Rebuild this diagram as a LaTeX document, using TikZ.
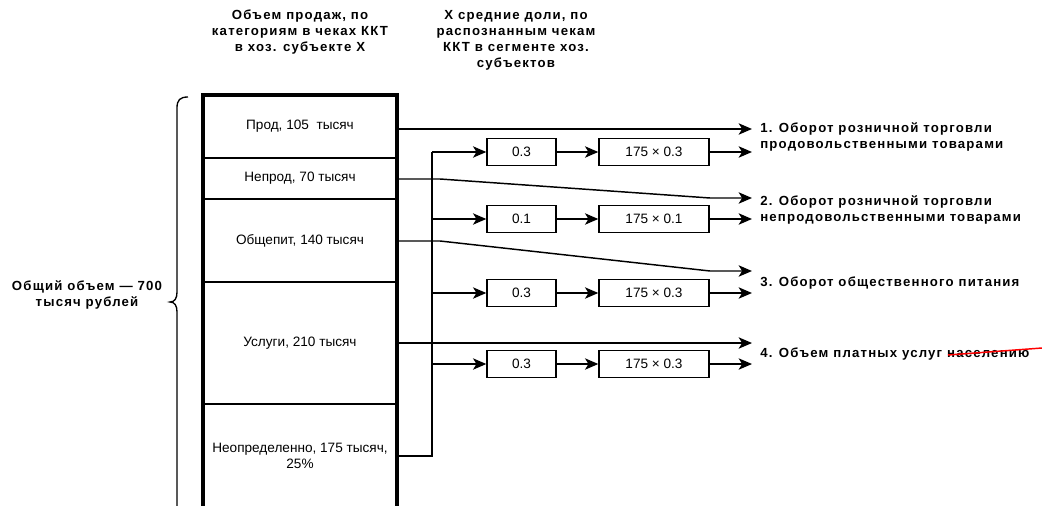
\documentclass[tikz,border=0pt]{standalone}
\usepackage{fontspec}
\setmainfont{Liberation Sans}
\newfontfamily\labfont[LetterSpace=9]{Liberation Sans}
\usetikzlibrary{arrows.meta}
\tikzset{
  cell/.style={draw, line width=1pt, minimum width=145.5pt, inner sep=0pt, align=center, font=\fontsize{10.2}{11.5}\selectfont},
  valbox/.style={draw, line width=1pt, minimum height=20.25pt, inner sep=0pt, font=\fontsize{10.2}{12}\selectfont},
  lab/.style={align=left, inner sep=0pt, font=\labfont\bfseries\fontsize{9.9}{12}\selectfont},
  head/.style={align=center, inner sep=0pt, font=\labfont\bfseries\fontsize{9.9}{12}\selectfont},
  conn/.style={line width=1.1pt},
  arr/.style={line width=1.1pt, -{Stealth[length=10pt,width=8.5pt,inset=2.6pt]}},
}
\begin{document}
\begin{tikzpicture}[x=0.75pt, y=-0.75pt]
\useasboundingbox (0,0) rectangle (1042,506);
\clip (0,0) rectangle (1042,506);
% headers
\node[head] (h1) at (300,32) {Объем продаж, по\\категориям в чеках ККТ\\в хоз. субъекте X};
\node[head] (h2) at (516,40) {X средние доли, по\\распознанным чекам\\ККТ в сегменте хоз.\\субъектов};
% left label and brace
\node[head] (total) at (87,295) {Общий объем — 700\\тысяч рублей};
\draw[line width=1pt] (188,97) .. controls (180,97) and (177,100) .. (177,108) -- (177,292)
  .. controls (177,298) and (175,302) .. (170,302) .. controls (175,302) and (177,306) .. (177,312) -- (177,520);
% main column cells
\node[cell, minimum height=47.25pt] (prod) at (300,126.5) {Прод, 105 \ тысяч};
\node[cell, minimum height=30.75pt] (neprod) at (300,178.5) {Непрод, 70 тысяч};
\node[cell, minimum height=62.25pt] (obsh) at (300,240.5) {Общепит, 140 тысяч};
\node[cell, minimum height=91.5pt] (usl) at (300,343) {Услуги, 210 тысяч};
\node[cell, minimum height=78pt] (neopr) at (300,456) {Неопределенно, 175 тысяч,\\25\%};
\draw[line width=2.3pt] (203,560) -- (203,95) -- (397,95) -- (397,560);
% value boxes
\node[valbox, minimum width=51.75pt] (a1) at (521.5,152) {0.3};
\node[valbox, minimum width=82.5pt] (b1) at (654,152) {175 × 0.3};
\node[valbox, minimum width=51.75pt] (a2) at (521.5,219) {0.1};
\node[valbox, minimum width=82.5pt] (b2) at (654,219) {175 × 0.1};
\node[valbox, minimum width=51.75pt] (a3) at (521.5,293) {0.3};
\node[valbox, minimum width=82.5pt] (b3) at (654,293) {175 × 0.3};
\node[valbox, minimum width=51.75pt] (a4) at (521.5,364) {0.3};
\node[valbox, minimum width=82.5pt] (b4) at (654,364) {175 × 0.3};
% right labels
\node[lab, anchor=west] (l1) at (760,137) {1. Оборот розничной торговли\\продовольственными товарами};
\node[lab, anchor=west] (l2) at (760,210) {2. Оборот розничной торговли\\непродовольственными товарами};
\node[lab, anchor=west] (l3) at (760,283) {3. Оборот общественного питания};
\node[lab, anchor=west] (l4) at (760,354) {4. Объем платных услуг населению};
% coordinates
\coordinate (t1) at (752,129);
\coordinate (t2) at (752,198);
\coordinate (t3) at (752,271);
\coordinate (t4) at (752,343);
\coordinate (k2) at (440,179);
\coordinate (s2) at (710,198);
\coordinate (k3) at (440,241);
\coordinate (s3) at (710,271);
\coordinate (bus1) at (432,152);
\coordinate (bus2) at (432,219);
\coordinate (bus3) at (432,293);
\coordinate (bus4) at (432,364);
\coordinate (u1) at (752,152);
\coordinate (u2) at (752,219);
\coordinate (u3) at (752,293);
\coordinate (u4) at (752,364);
% direct connectors
\draw[arr] (prod.east |- t1) -- (t1);
\draw[arr] (neprod.east |- k2) -- (k2) -- (s2) -- (t2);
\draw[arr] (obsh.east |- k3) -- (k3) -- (s3) -- (t3);
\draw[arr] (usl.east |- t4) -- (t4);
% bus
\draw[conn] (neopr.east) -| (bus1);
\draw[arr] (bus1) -- (a1.west);
\draw[arr] (bus2) -- (a2.west);
\draw[arr] (bus3) -- (a3.west);
\draw[arr] (bus4) -- (a4.west);
\draw[arr] (a1) -- (b1);
\draw[arr] (a2) -- (b2);
\draw[arr] (a3) -- (b3);
\draw[arr] (a4) -- (b4);
\draw[arr] (b1) -- (u1);
\draw[arr] (b2) -- (u2);
\draw[arr] (b3) -- (u3);
\draw[arr] (b4) -- (u4);
% red strike
\coordinate (r1) at (948,355);
\coordinate (r2) at (1042,348);
\draw[red, line width=1.1pt] (r1) -- (r2);
\end{tikzpicture}
\end{document}
